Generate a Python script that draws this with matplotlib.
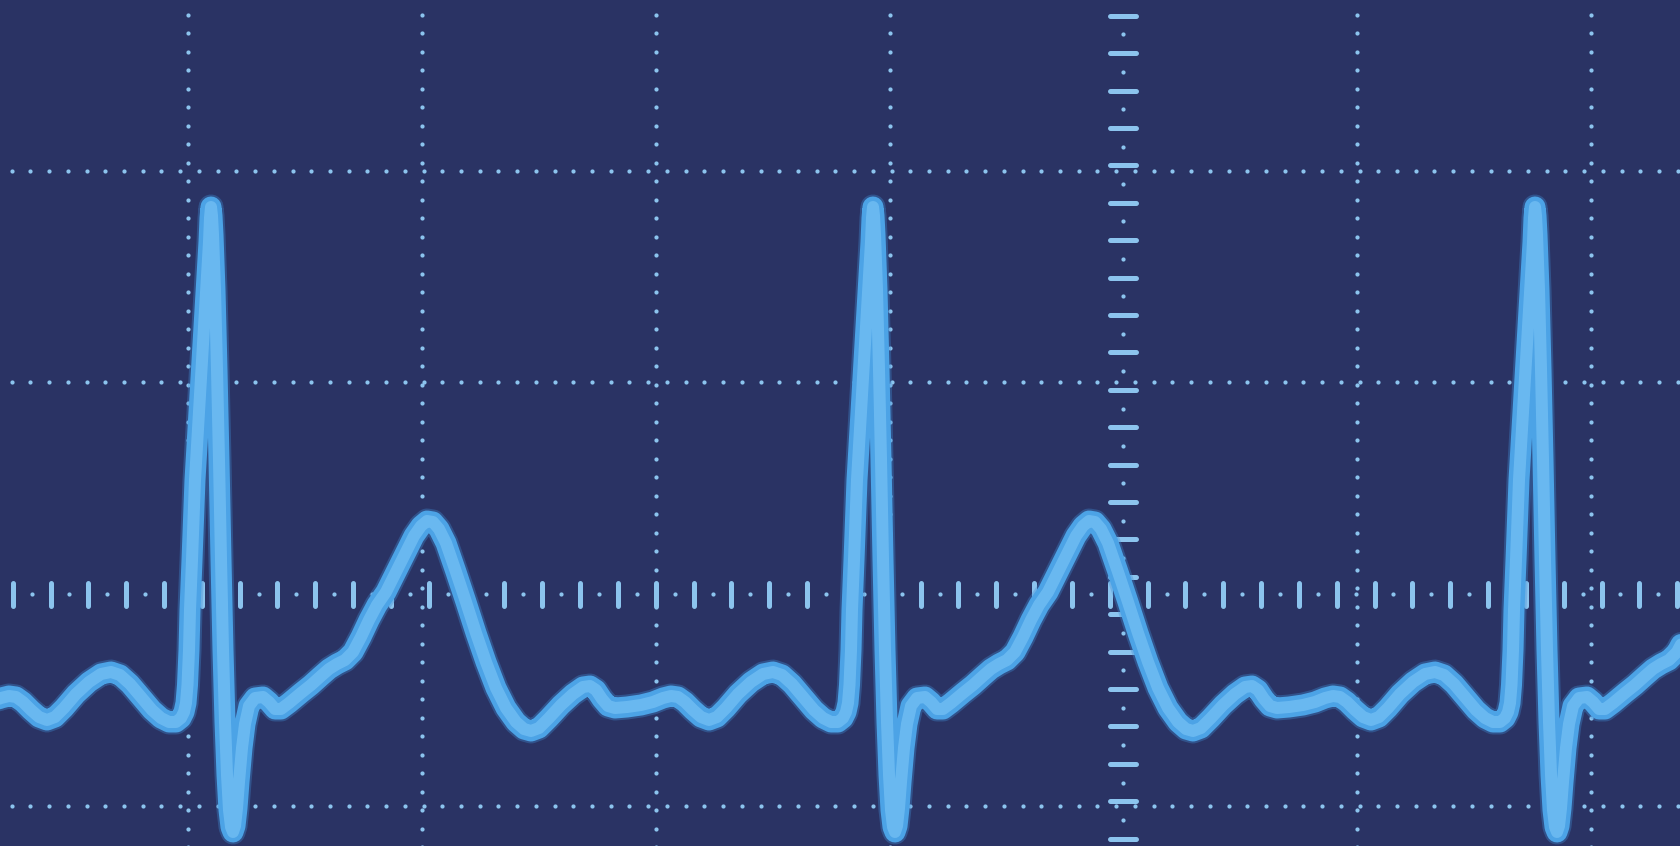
import numpy as np
import matplotlib
matplotlib.use("Agg")
import matplotlib.pyplot as plt

# ---------------- data (grid units: 1 x-division, 1 y-division) ----------------
# one heartbeat, starting at an R peak and ending at the next one
beat_t = [0.0000, 0.0043, 0.0086, 0.0171, 0.0257, 0.0342, 0.0428, 0.0513, 0.0599, 0.0685,
          0.0770, 0.0856, 0.0941, 0.1027, 0.1113, 0.1198, 0.1326, 0.1455, 0.1626, 0.1883,
          0.2225, 0.2482, 0.2739, 0.2995, 0.3338, 0.3851, 0.4279, 0.4707, 0.5049, 0.5392,
          0.5734, 0.6076, 0.6418, 0.6761, 0.7103, 0.7488, 0.7916, 0.8344, 0.8686, 0.8986,
          0.9243, 0.9499, 0.9756, 1.0056, 1.0484, 1.0911, 1.1339, 1.1767, 1.2195, 1.2623,
          1.3051, 1.3393, 1.3693, 1.4035, 1.4463, 1.4976, 1.5490, 1.5918, 1.6217, 1.6474,
          1.6731, 1.6988, 1.7287, 1.7801, 1.8400, 1.8913, 1.9341, 1.9683, 1.9983, 2.0283,
          2.0625, 2.0967, 2.1309, 2.1652, 2.2037, 2.2550, 2.3107, 2.3620, 2.4048, 2.4433,
          2.4861, 2.5332, 2.5802, 2.6187, 2.6530, 2.6829, 2.7043, 2.7172, 2.7257, 2.7321,
          2.7386, 2.7428, 2.7514, 2.7642, 2.7813, 2.7985, 2.8156, 2.8241, 2.8284, 2.8327]
beat_v = [1.8281, 1.7856, 1.6958, 1.4360, 1.0581, 0.6330, 0.1606, -0.2645, -0.6046, -0.8550,
          -1.0203, -1.1006, -1.1242, -1.0959, -1.0109, -0.8881, -0.7274, -0.6141, -0.5291, -0.4913,
          -0.4865, -0.5102, -0.5432, -0.5432, -0.5149, -0.4676, -0.4299, -0.3873, -0.3543, -0.3307,
          -0.3118, -0.2740, -0.2031, -0.1228, -0.0520, 0.0094, 0.1039, 0.1984, 0.2740, 0.3212,
          0.3448, 0.3401, 0.3070, 0.2409, 0.1039, -0.0378, -0.1842, -0.3212, -0.4440, -0.5385,
          -0.6046, -0.6377, -0.6471, -0.6330, -0.5857, -0.5243, -0.4724, -0.4393, -0.4346, -0.4535,
          -0.4960, -0.5291, -0.5385, -0.5338, -0.5243, -0.5102, -0.4913, -0.4818, -0.4865, -0.5102,
          -0.5479, -0.5810, -0.5952, -0.5810, -0.5385, -0.4724, -0.4157, -0.3779, -0.3684, -0.3826,
          -0.4251, -0.4865, -0.5479, -0.5857, -0.6046, -0.6046, -0.5857, -0.5574, -0.5149, -0.4299,
          -0.2645, -0.0756, 0.1606, 0.5385, 0.8597, 1.1809, 1.5021, 1.6627, 1.7761, 1.8281]
r_peaks = [-2.7364, 0.0963, 2.9290, 5.7617]   # R-peak times of the beats

grid_x = [0, 1, 2, 3, 5, 6]          # dotted vertical grid lines
grid_y = [2, 1, -1]                  # dotted horizontal grid lines
axis_x = 4.0                         # vertical scale axis (dashes)
axis_y = 0.0                         # horizontal scale axis (ticks)

# ---------------- style ----------------
W, H, DPI = 1680, 846, 100
PX_X = 233.7      # pixels per x unit
PX_Y = 211.7      # pixels per y unit
BG = "#2a3364"
DOT = "#8cc4ee"
LINE_GLOW = "#3f8ed6"
LINE_OUT = "#4ca3e6"
LINE_IN = "#6dbbf2"

fig = plt.figure(figsize=(W / DPI, H / DPI), dpi=DPI)
fig.patch.set_facecolor(BG)
ax = fig.add_axes([0, 0, 1, 1])
ax.set_facecolor(BG)
xmin, xmax = -188.5 / PX_X, (W - 188.5) / PX_X
ymin, ymax = -(H - 594) / PX_Y, 594 / PX_Y
ax.set_xlim(xmin, xmax)
ax.set_ylim(ymin, ymax)
ax.axis("off")

pt = 72 / DPI  # points per pixel
dot_ms = 4.2 * pt

# dotted grid lines
hdots = np.arange(-0.7565, xmax + 0.05, 18.72 / PX_X)
for gy in grid_y:
    ax.plot(hdots, np.full_like(hdots, gy), ls="none", marker="o", ms=dot_ms,
            mec="none", mfc=DOT, zorder=1)
vd0 = 2.0373
step_v = 18.5 / PX_Y
kmin = int(np.floor((ymin - vd0) / step_v)) - 1
kmax = int(np.ceil((ymax - vd0) / step_v)) + 1
vdots = vd0 + step_v * np.arange(kmin, kmax)
for gx in grid_x:
    ax.plot(np.full_like(vdots, gx), vdots, ls="none", marker="o", ms=dot_ms,
            mec="none", mfc=DOT, zorder=1)

# horizontal scale axis: long ticks with dots between
tick_step = 37.83 / PX_X
ticks = -0.7523 + tick_step * np.arange(0, 46)
half_h = 11.5 / PX_Y
ax.vlines(ticks, axis_y - half_h, axis_y + half_h, colors=DOT,
          linewidth=5 * pt, capstyle="round", zorder=2)
mids = ticks + tick_step / 2
ax.plot(mids, np.full_like(mids, axis_y), ls="none", marker="o", ms=dot_ms,
        mec="none", mfc=DOT, zorder=2)

# vertical scale axis: short horizontal dashes with dots between
dash_step = 37.41 / PX_Y
dashes = 2.7317 - dash_step * np.arange(0, 24)
half_w = 13.0 / PX_X
ax.hlines(dashes, axis_x - half_w, axis_x + half_w, colors=DOT,
          linewidth=5 * pt, capstyle="round", zorder=2)
dmids = dashes - dash_step / 2
ax.plot(np.full_like(dmids, axis_x), dmids, ls="none", marker="o", ms=dot_ms,
        mec="none", mfc=DOT, zorder=2)

# ECG trace
bt = np.array(beat_t)
bv = np.array(beat_v)
ts, vs = [], []
for i, r in enumerate(r_peaks):
    sl = slice(0, None) if i == len(r_peaks) - 1 else slice(0, -1)
    ts.append(r + bt[sl])
    vs.append(bv[sl])
ts = np.concatenate(ts)
vs = np.concatenate(vs)

common = dict(solid_capstyle="round", solid_joinstyle="round")
ax.plot(ts, vs, color=LINE_GLOW, lw=25 * pt, alpha=0.35, zorder=3, **common)
ax.plot(ts, vs, color=LINE_OUT, lw=21 * pt, zorder=4, **common)
ax.plot(ts, vs, color=LINE_IN, lw=12 * pt, zorder=5, alpha=0.9, **common)

fig.savefig("out.png", dpi=DPI, facecolor=BG)
